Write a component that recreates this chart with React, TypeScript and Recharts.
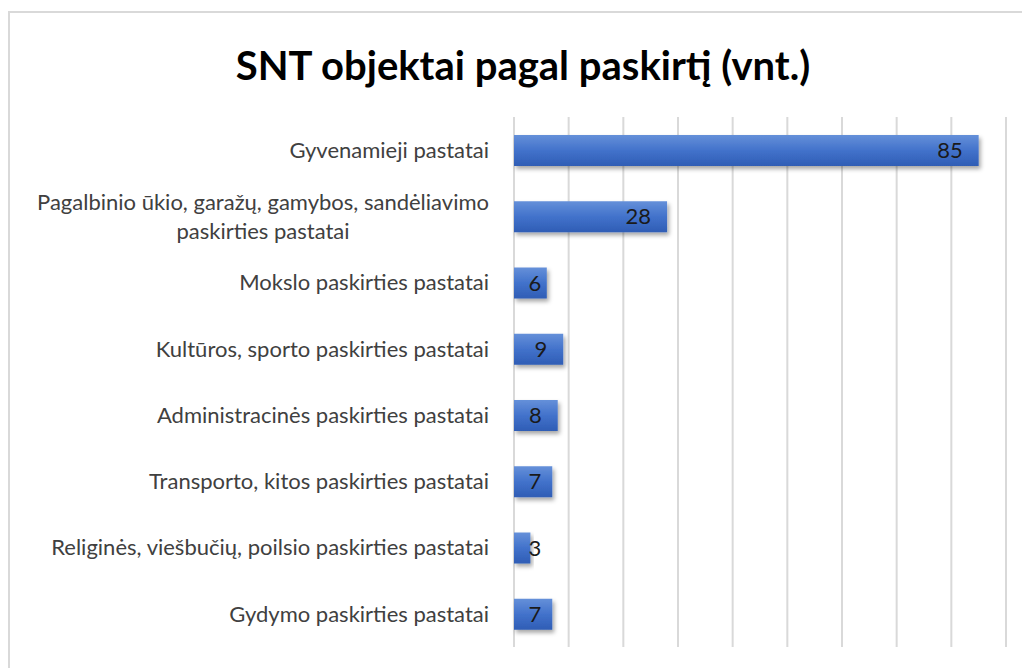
import React from 'react';
import { BarChart, Bar, XAxis, YAxis, CartesianGrid, LabelList } from 'recharts';

const categories = [
  'Gyvenamieji pastatai',
  'Pagalbinio ūkio, garažų, gamybos, sandėliavimo\npaskirties pastatai',
  'Mokslo paskirties pastatai',
  'Kultūros, sporto paskirties pastatai',
  'Administracinės paskirties pastatai',
  'Transporto, kitos paskirties pastatai',
  'Religinės, viešbučių, poilsio paskirties pastatai',
  'Gydymo paskirties pastatai',
];
const counts = [85, 28, 6, 9, 8, 7, 3, 7];
const gridTicks = [0, 10, 20, 30, 40, 50, 60, 70, 80, 90];

const chartData = categories.map((name, i) => ({ name, value: counts[i] }));

const FONT = 'Lato, "Open Sans", sans-serif';
const LABEL_SIZE = 22;

let ctx: CanvasRenderingContext2D | null = null;
function textWidth(s: string, font: string) {
  if (!ctx) ctx = document.createElement('canvas').getContext('2d');
  if (!ctx) return s.length * 10;
  ctx.font = font;
  return ctx.measureText(s).width;
}

// x ticks are only needed for the grid lines
const EmptyTick = () => <g />;

// category labels: right aligned block, wrapped lines centred within it
function CategoryTick(props: any) {
  const { x, y, payload } = props;
  const lines: string[] = String(payload.value).split('\n');
  const right = x - 17;
  if (lines.length === 1) {
    return (
      <text x={right} y={y} dy="0.35em" textAnchor="end" fill="#404040"
        fontFamily={FONT} fontSize={LABEL_SIZE}>
        {lines[0]}
      </text>
    );
  }
  const w = textWidth(lines[0], `${LABEL_SIZE}px Lato`);
  const mid = right - w / 2;
  return (
    <g>
      {lines.map((l, i) => (
        <text key={i} x={mid} y={y + (i - (lines.length - 1) / 2) * 29} dy="0.35em"
          textAnchor="middle" fill="#404040" fontFamily={FONT} fontSize={LABEL_SIZE}>
          {l}
        </text>
      ))}
    </g>
  );
}

function ValueLabel(props: any) {
  const { x, y, width, height, value } = props;
  const w = textWidth(String(value), `${LABEL_SIZE}px Lato`);
  const cx = Math.max(x + 21, x + width - 16 - w / 2);
  return (
    <text x={cx} y={y + height / 2} dy="0.35em" textAnchor="middle" fill="#1a1a1a"
      fontFamily={FONT} fontSize={LABEL_SIZE}>
      {value}
    </text>
  );
}

export default function App() {
  return (
    <div style={{ position: 'absolute', left: 0, top: 0, width: 1022, height: 668, overflow: 'hidden', background: '#fff' }}>
      <div style={{ position: 'absolute', left: 8, top: 11, width: 1040, height: 700, border: '2px solid #d9d9d9', boxSizing: 'border-box' }} />
      <div style={{ position: 'absolute', left: 0, top: 38, width: 1046, textAlign: 'center', fontFamily: FONT, fontWeight: 700, fontSize: 40, color: '#000', lineHeight: '54px' }}>
        SNT objektai pagal paskirtį (vnt.)
      </div>
      <div style={{ position: 'absolute', left: 0, top: 0 }}>
        <BarChart width={1022} height={668} data={chartData} layout="vertical"
          margin={{ top: 117, right: 16, bottom: 21, left: 0 }} barSize={31}>
          <defs>
            <linearGradient id="barFill" x1="0" y1="0" x2="0" y2="1">
              <stop offset="0%" stopColor="#6590d9" />
              <stop offset="50%" stopColor="#4272cb" />
              <stop offset="100%" stopColor="#2f5db5" />
            </linearGradient>
            <filter id="barShadow" x="-10%" y="-30%" width="130%" height="180%">
              <feDropShadow dx="2" dy="3" stdDeviation="2" floodColor="#000" floodOpacity="0.35" />
            </filter>
          </defs>
          <CartesianGrid horizontal={false} stroke="#d9d9d9" strokeWidth={2} />
          <XAxis type="number" domain={[0, 90]} ticks={gridTicks} height={0}
            tick={<EmptyTick />} axisLine={false} tickLine={false} />
          <YAxis type="category" dataKey="name" width={514} axisLine={false} tickLine={false}
            tick={<CategoryTick />} interval={0} />
          <Bar dataKey="value" fill="url(#barFill)" filter="url(#barShadow)" isAnimationActive={false}>
            <LabelList dataKey="value" content={<ValueLabel />} />
          </Bar>
        </BarChart>
      </div>
    </div>
  );
}
